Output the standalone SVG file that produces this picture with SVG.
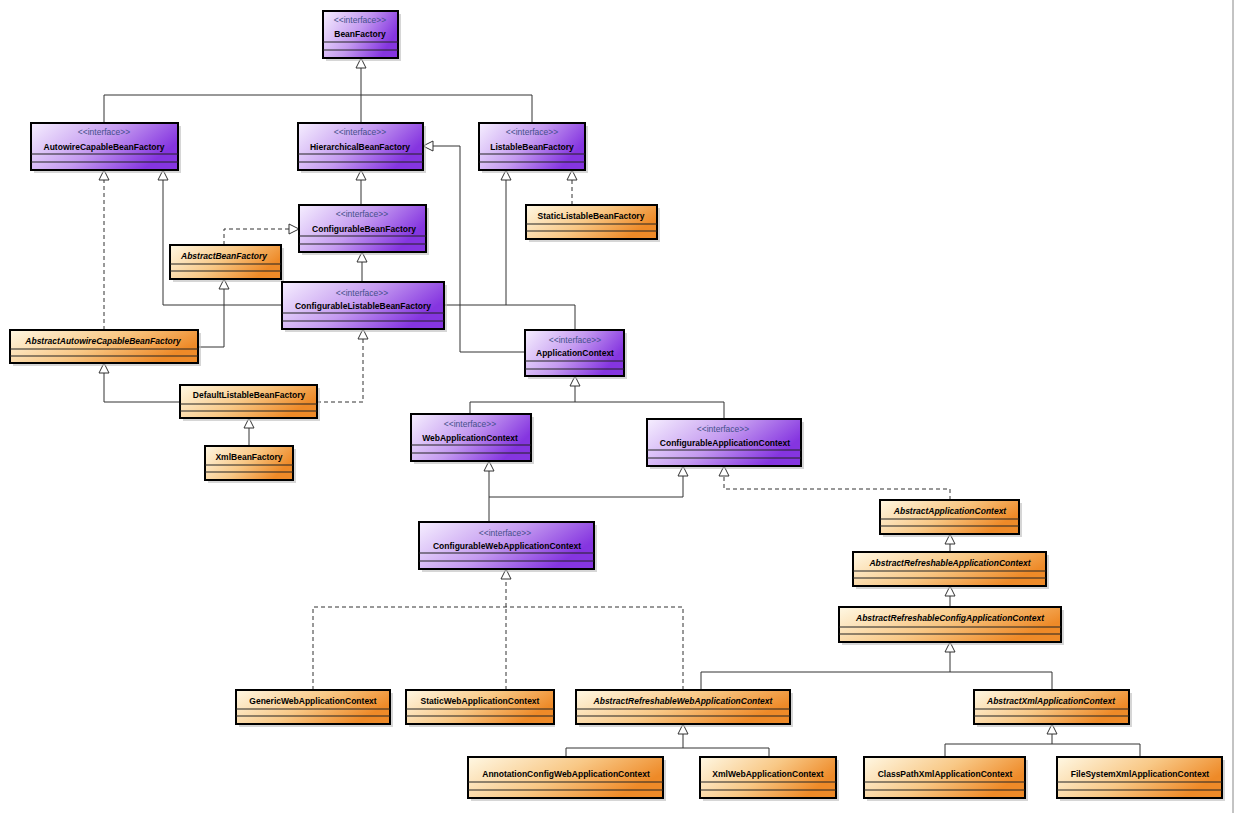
<svg xmlns="http://www.w3.org/2000/svg" width="1240" height="813" viewBox="0 0 1240 813">
<defs>
<linearGradient id="gi" x1="0" y1="0" x2="1" y2="0.4"><stop offset="0" stop-color="#f6efff"/><stop offset="0.55" stop-color="#c49af0"/><stop offset="1" stop-color="#8535e0"/></linearGradient>
<linearGradient id="gc" x1="0" y1="0" x2="1" y2="0.4"><stop offset="0" stop-color="#fff8e4"/><stop offset="0.55" stop-color="#f8c886"/><stop offset="1" stop-color="#ee8a28"/></linearGradient>
<marker id="t" viewBox="0 0 12 12" refX="11" refY="6" markerWidth="12" markerHeight="12" markerUnits="userSpaceOnUse" orient="auto"><path d="M1,1 L11,6 L1,11 Z" fill="#fff" stroke="#333" stroke-width="1"/></marker>
</defs>
<style>
.i{fill:url(#gi);stroke:#000;stroke-width:2}
.c{fill:url(#gc);stroke:#000;stroke-width:2}
.sh{fill:#bbb;opacity:0.6}
.d{stroke:#222;stroke-width:1}
text{font-family:"Liberation Sans",Arial,sans-serif;text-anchor:middle}
.st{font-size:8.5px;fill:#44508a}
.n{font-size:8.5px;font-weight:bold;fill:#000}
.a{font-style:italic}
.l{fill:none;stroke:#333;stroke-width:1}
.ds{stroke-dasharray:4,3}
</style>
<rect width="1240" height="813" fill="#fff"/>
<line x1="1233" y1="0" x2="1233" y2="813" stroke="#888" stroke-width="1"/>
<g id="connectors">
<path class="l" d="M104,123 V95 H532 V123 M361,123 V58" marker-end="url(#t)"/>
<path class="l" d="M361,205 V170" marker-end="url(#t)"/>
<path class="l" d="M525,352 H460 V146 H423" marker-end="url(#t)"/>
<path class="l ds" d="M104,330 V170" marker-end="url(#t)"/>
<path class="l" d="M282,305 H163 V170" marker-end="url(#t)"/>
<path class="l ds" d="M224,245 V229 H299" marker-end="url(#t)"/>
<path class="l" d="M362,282 V252" marker-end="url(#t)"/>
<path class="l" d="M198,347 H224 V279" marker-end="url(#t)"/>
<path class="l" d="M444,305 H506"/>
<path class="l" d="M575,330 V305 H506 V170" marker-end="url(#t)"/>
<path class="l ds" d="M572,205 V170" marker-end="url(#t)"/>
<path class="l" d="M180,402 H104 V363" marker-end="url(#t)"/>
<path class="l ds" d="M317,402 H363 V329" marker-end="url(#t)"/>
<path class="l" d="M249,446 V418" marker-end="url(#t)"/>
<path class="l" d="M470,414 V402 H724 V419 M575,402 V376" marker-end="url(#t)"/>
<path class="l" d="M489,522 V461" marker-end="url(#t)"/>
<path class="l" d="M489,497 H683 V466" marker-end="url(#t)"/>
<path class="l ds" d="M950,500 V489 H724 V466" marker-end="url(#t)"/>
<path class="l" d="M950,552 V534" marker-end="url(#t)"/>
<path class="l" d="M950,607 V586" marker-end="url(#t)"/>
<path class="l" d="M701,690 V672 H1052 V690 M950,672 V642" marker-end="url(#t)"/>
<path class="l ds" d="M313,690 V607 H683 V690 M506,690 V607 M506,607 V569" marker-end="url(#t)"/>
<path class="l" d="M566,757 V748 H769 V757 M683,748 V724" marker-end="url(#t)"/>
<path class="l" d="M945,757 V744 H1140 V757 M1052,744 V724" marker-end="url(#t)"/>
</g>
<g id="BeanFactory"><rect class="sh" x="326" y="14" width="75" height="47"/><rect class="i" x="323" y="11" width="75" height="47"/><line class="d" x1="323" y1="42" x2="398" y2="42"/><line class="d" x1="323" y1="50" x2="398" y2="50"/><text class="st" x="360" y="23">&lt;&lt;interface&gt;&gt;</text><text class="n" x="360" y="37">BeanFactory</text></g>
<g id="AutowireCapableBeanFactory"><rect class="sh" x="34" y="126" width="147" height="47"/><rect class="i" x="31" y="123" width="147" height="47"/><line class="d" x1="31" y1="154" x2="178" y2="154"/><line class="d" x1="31" y1="162" x2="178" y2="162"/><text class="st" x="104" y="135">&lt;&lt;interface&gt;&gt;</text><text class="n" x="104" y="150">AutowireCapableBeanFactory</text></g>
<g id="HierarchicalBeanFactory"><rect class="sh" x="301" y="126" width="125" height="47"/><rect class="i" x="298" y="123" width="125" height="47"/><line class="d" x1="298" y1="154" x2="423" y2="154"/><line class="d" x1="298" y1="162" x2="423" y2="162"/><text class="st" x="360" y="135">&lt;&lt;interface&gt;&gt;</text><text class="n" x="360" y="150">HierarchicalBeanFactory</text></g>
<g id="ListableBeanFactory"><rect class="sh" x="482" y="126" width="106" height="47"/><rect class="i" x="479" y="123" width="106" height="47"/><line class="d" x1="479" y1="154" x2="585" y2="154"/><line class="d" x1="479" y1="162" x2="585" y2="162"/><text class="st" x="532" y="135">&lt;&lt;interface&gt;&gt;</text><text class="n" x="532" y="150">ListableBeanFactory</text></g>
<g id="ConfigurableBeanFactory"><rect class="sh" x="302" y="208" width="127" height="47"/><rect class="i" x="299" y="205" width="127" height="47"/><line class="d" x1="299" y1="236" x2="426" y2="236"/><line class="d" x1="299" y1="244" x2="426" y2="244"/><text class="st" x="362" y="217">&lt;&lt;interface&gt;&gt;</text><text class="n" x="364" y="232">ConfigurableBeanFactory</text></g>
<g id="StaticListableBeanFactory"><rect class="sh" x="529" y="208" width="131" height="34"/><rect class="c" x="526" y="205" width="131" height="34"/><line class="d" x1="526" y1="224" x2="657" y2="224"/><line class="d" x1="526" y1="231" x2="657" y2="231"/><text class="n" x="591" y="219">StaticListableBeanFactory</text></g>
<g id="AbstractBeanFactory"><rect class="sh" x="173" y="248" width="111" height="34"/><rect class="c" x="170" y="245" width="111" height="34"/><line class="d" x1="170" y1="264" x2="281" y2="264"/><line class="d" x1="170" y1="271" x2="281" y2="271"/><text class="n a" x="224" y="259">AbstractBeanFactory</text></g>
<g id="ConfigurableListableBeanFactory"><rect class="sh" x="285" y="285" width="162" height="47"/><rect class="i" x="282" y="282" width="162" height="47"/><line class="d" x1="282" y1="313" x2="444" y2="313"/><line class="d" x1="282" y1="321" x2="444" y2="321"/><text class="st" x="362" y="296">&lt;&lt;interface&gt;&gt;</text><text class="n" x="363" y="309">ConfigurableListableBeanFactory</text></g>
<g id="AbstractAutowireCapableBeanFactory"><rect class="sh" x="13" y="333" width="188" height="33"/><rect class="c" x="10" y="330" width="188" height="33"/><line class="d" x1="10" y1="349" x2="198" y2="349"/><line class="d" x1="10" y1="356" x2="198" y2="356"/><text class="n a" x="103" y="344">AbstractAutowireCapableBeanFactory</text></g>
<g id="ApplicationContext"><rect class="sh" x="528" y="333" width="99" height="46"/><rect class="i" x="525" y="330" width="99" height="46"/><line class="d" x1="525" y1="361" x2="624" y2="361"/><line class="d" x1="525" y1="369" x2="624" y2="369"/><text class="st" x="575" y="343">&lt;&lt;interface&gt;&gt;</text><text class="n" x="575" y="356">ApplicationContext</text></g>
<g id="DefaultListableBeanFactory"><rect class="sh" x="183" y="388" width="137" height="33"/><rect class="c" x="180" y="385" width="137" height="33"/><line class="d" x1="180" y1="404" x2="317" y2="404"/><line class="d" x1="180" y1="411" x2="317" y2="411"/><text class="n" x="249" y="398">DefaultListableBeanFactory</text></g>
<g id="XmlBeanFactory"><rect class="sh" x="208" y="449" width="88" height="34"/><rect class="c" x="205" y="446" width="88" height="34"/><line class="d" x1="205" y1="465" x2="293" y2="465"/><line class="d" x1="205" y1="472" x2="293" y2="472"/><text class="n" x="249" y="460">XmlBeanFactory</text></g>
<g id="WebApplicationContext"><rect class="sh" x="414" y="417" width="120" height="47"/><rect class="i" x="411" y="414" width="120" height="47"/><line class="d" x1="411" y1="445" x2="531" y2="445"/><line class="d" x1="411" y1="453" x2="531" y2="453"/><text class="st" x="470" y="427">&lt;&lt;interface&gt;&gt;</text><text class="n" x="470" y="441">WebApplicationContext</text></g>
<g id="ConfigurableApplicationContext"><rect class="sh" x="650" y="422" width="154" height="47"/><rect class="i" x="647" y="419" width="154" height="47"/><line class="d" x1="647" y1="450" x2="801" y2="450"/><line class="d" x1="647" y1="458" x2="801" y2="458"/><text class="st" x="723" y="432">&lt;&lt;interface&gt;&gt;</text><text class="n" x="725" y="446">ConfigurableApplicationContext</text></g>
<g id="ConfigurableWebApplicationContext"><rect class="sh" x="422" y="525" width="175" height="47"/><rect class="i" x="419" y="522" width="175" height="47"/><line class="d" x1="419" y1="553" x2="594" y2="553"/><line class="d" x1="419" y1="561" x2="594" y2="561"/><text class="st" x="505" y="536">&lt;&lt;interface&gt;&gt;</text><text class="n" x="507" y="549">ConfigurableWebApplicationContext</text></g>
<g id="AbstractApplicationContext"><rect class="sh" x="883" y="503" width="139" height="34"/><rect class="c" x="880" y="500" width="139" height="34"/><line class="d" x1="880" y1="519" x2="1019" y2="519"/><line class="d" x1="880" y1="526" x2="1019" y2="526"/><text class="n a" x="950" y="514">AbstractApplicationContext</text></g>
<g id="AbstractRefreshableApplicationContext"><rect class="sh" x="856" y="555" width="193" height="34"/><rect class="c" x="853" y="552" width="193" height="34"/><line class="d" x1="853" y1="571" x2="1046" y2="571"/><line class="d" x1="853" y1="578" x2="1046" y2="578"/><text class="n a" x="950" y="566">AbstractRefreshableApplicationContext</text></g>
<g id="AbstractRefreshableConfigApplicationContext"><rect class="sh" x="842" y="610" width="222" height="35"/><rect class="c" x="839" y="607" width="222" height="35"/><line class="d" x1="839" y1="627" x2="1061" y2="627"/><line class="d" x1="839" y1="634" x2="1061" y2="634"/><text class="n a" x="950" y="621">AbstractRefreshableConfigApplicationContext</text></g>
<g id="GenericWebApplicationContext"><rect class="sh" x="239" y="693" width="154" height="34"/><rect class="c" x="236" y="690" width="154" height="34"/><line class="d" x1="236" y1="709" x2="390" y2="709"/><line class="d" x1="236" y1="716" x2="390" y2="716"/><text class="n" x="313" y="704">GenericWebApplicationContext</text></g>
<g id="StaticWebApplicationContext"><rect class="sh" x="409" y="693" width="146" height="34"/><rect class="c" x="406" y="690" width="148" height="34"/><line class="d" x1="406" y1="709" x2="554" y2="709"/><line class="d" x1="406" y1="716" x2="554" y2="716"/><text class="n" x="480" y="704">StaticWebApplicationContext</text></g>
<g id="AbstractRefreshableWebApplicationContext"><rect class="sh" x="579" y="693" width="214" height="34"/><rect class="c" x="576" y="690" width="214" height="34"/><line class="d" x1="576" y1="709" x2="790" y2="709"/><line class="d" x1="576" y1="716" x2="790" y2="716"/><text class="n a" x="683" y="704">AbstractRefreshableWebApplicationContext</text></g>
<g id="AbstractXmlApplicationContext"><rect class="sh" x="977" y="693" width="155" height="34"/><rect class="c" x="974" y="690" width="155" height="34"/><line class="d" x1="974" y1="709" x2="1129" y2="709"/><line class="d" x1="974" y1="716" x2="1129" y2="716"/><text class="n a" x="1051" y="704">AbstractXmlApplicationContext</text></g>
<g id="AnnotationConfigWebApplicationContext"><rect class="sh" x="471" y="760" width="195" height="41"/><rect class="c" x="468" y="757" width="195" height="41"/><line class="d" x1="468" y1="782" x2="663" y2="782"/><line class="d" x1="468" y1="790" x2="663" y2="790"/><text class="n" x="566" y="777">AnnotationConfigWebApplicationContext</text></g>
<g id="XmlWebApplicationContext"><rect class="sh" x="703" y="760" width="136" height="41"/><rect class="c" x="700" y="757" width="136" height="41"/><line class="d" x1="700" y1="782" x2="836" y2="782"/><line class="d" x1="700" y1="790" x2="836" y2="790"/><text class="n" x="768" y="777">XmlWebApplicationContext</text></g>
<g id="ClassPathXmlApplicationContext"><rect class="sh" x="867" y="760" width="161" height="41"/><rect class="c" x="864" y="757" width="161" height="41"/><line class="d" x1="864" y1="782" x2="1025" y2="782"/><line class="d" x1="864" y1="790" x2="1025" y2="790"/><text class="n" x="945" y="777">ClassPathXmlApplicationContext</text></g>
<g id="FileSystemXmlApplicationContext"><rect class="sh" x="1060" y="760" width="165" height="41"/><rect class="c" x="1057" y="757" width="165" height="41"/><line class="d" x1="1057" y1="782" x2="1222" y2="782"/><line class="d" x1="1057" y1="790" x2="1222" y2="790"/><text class="n" x="1140" y="777">FileSystemXmlApplicationContext</text></g>
</svg>
